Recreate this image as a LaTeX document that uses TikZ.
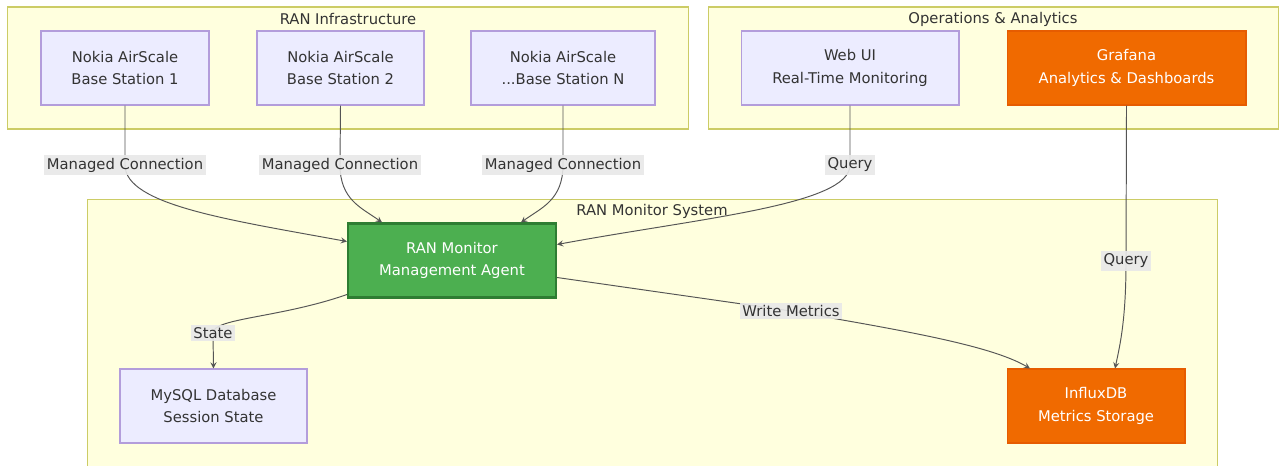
\documentclass[tikz,border=0pt]{standalone}
\usepackage{fontspec}
\setmainfont{DejaVu Sans}
\usepackage{tikz}
\usetikzlibrary{arrows,positioning,calc}
\definecolor{clusterfill}{HTML}{FFFFDE}
\definecolor{clusterline}{HTML}{CCCC66}
\definecolor{nodefill}{HTML}{ECECFF}
\definecolor{nodeline}{HTML}{B39DDB}
\definecolor{orangefill}{HTML}{F06A00}
\definecolor{orangeline}{HTML}{E65C00}
\definecolor{agentfill}{HTML}{4CAF50}
\definecolor{agentline}{HTML}{2E7D32}
\definecolor{edgelabel}{HTML}{E8E8E8}
\definecolor{textgray}{HTML}{333333}
\definecolor{linegray}{HTML}{555555}

\begin{document}
\begin{tikzpicture}[x=0.02cm,y=-0.02cm,
  cluster/.style={draw=clusterline,fill=clusterfill,line width=0.6pt,inner sep=0pt},
  ctitle/.style={font=\fontsize{8.4}{13}\selectfont,text=textgray,inner sep=0pt},
  box/.style={draw=nodeline,fill=nodefill,line width=0.6pt,minimum height=1.48cm,align=center,font=\fontsize{8.4}{13}\selectfont,text=textgray,inner sep=0pt},
  hotbox/.style={box,draw=orangeline,fill=orangefill,text=white},
  agentbox/.style={box,draw=agentline,fill=agentfill,text=white,line width=1.2pt},
  arr/.style={->,>=stealth,draw=linegray,line width=0.55pt},
  lbl/.style={font=\fontsize{8.4}{10}\selectfont,fill=edgelabel,fill opacity=0.9,text opacity=1,text=textgray,inner sep=1.5pt}
]
\useasboundingbox (0,0) rectangle (1280,466);

% groups
\node[cluster,minimum width=13.64cm,minimum height=2.44cm] (infra) at (348,68) {};
\node[cluster,minimum width=11.42cm,minimum height=2.44cm] (ops) at (993.5,68) {};
\node[cluster,minimum width=22.62cm,minimum height=5.42cm] (monitor) at (652.5,334.5) {};
\node[ctitle] (infratitle) at (348,19) {RAN Infrastructure};
\node[ctitle] (opstitle) at (993,19) {Operations \& Analytics};
\node[ctitle] (monitortitle) at (652,211) {RAN Monitor System};

% nodes
\node[box,minimum width=3.36cm] (bs1) at (125,68) {Nokia AirScale\\Base Station 1};
\node[box,minimum width=3.34cm] (bs2) at (340.5,68) {Nokia AirScale\\Base Station 2};
\node[box,minimum width=3.68cm] (bsn) at (563,68) {Nokia AirScale\\...Base Station N};
\node[box,minimum width=4.36cm] (webui) at (850,68) {Web UI\\Real-Time Monitoring};
\node[hotbox,minimum width=4.78cm] (grafana) at (1126.5,68) {Grafana\\Analytics \& Dashboards};
\node[agentbox,minimum width=4.16cm] (agent) at (452,260.5) {RAN Monitor\\Management Agent};
\node[box,minimum width=3.74cm] (mysql) at (213.5,406) {MySQL Database\\Session State};
\node[hotbox,minimum width=3.56cm] (influx) at (1096,406) {InfluxDB\\Metrics Storage};

% connections
\draw[arr] (bs1.south) -- (125,165) node[lbl]{Managed Connection}
  .. controls (125,205) and (230,220) .. ([yshift=0.38cm]agent.west);
\draw[arr] (bs2.south) -- (340,165) node[lbl]{Managed Connection}
  .. controls (340,200) and (362,208) .. ([xshift=-1.4cm]agent.north);
\draw[arr] (bsn.south) -- (563,165) node[lbl]{Managed Connection}
  .. controls (563,200) and (541,208) .. ([xshift=1.38cm]agent.north);
\draw[arr] (webui.south) -- (850,165) node[lbl]{Query}
  .. controls (850,205) and (700,218) .. ([yshift=0.32cm]agent.east);
\draw[arr] (grafana.south) -- (1126,261) node[lbl]{Query}
  .. controls (1126,320) and (1120,345) .. ([xshift=0.38cm]influx.north);
\draw[arr] ([yshift=-0.34cm]agent.east) -- (791,311) node[lbl]{Write Metrics}
  .. controls (900,330) and (990,345) .. ([xshift=-1.32cm]influx.north);
\draw[arr] ([yshift=-0.68cm]agent.west) .. controls (280,318) and (213,318) .. (213,333) node[lbl]{State}
  -- (mysql.north);
\end{tikzpicture}
\end{document}
